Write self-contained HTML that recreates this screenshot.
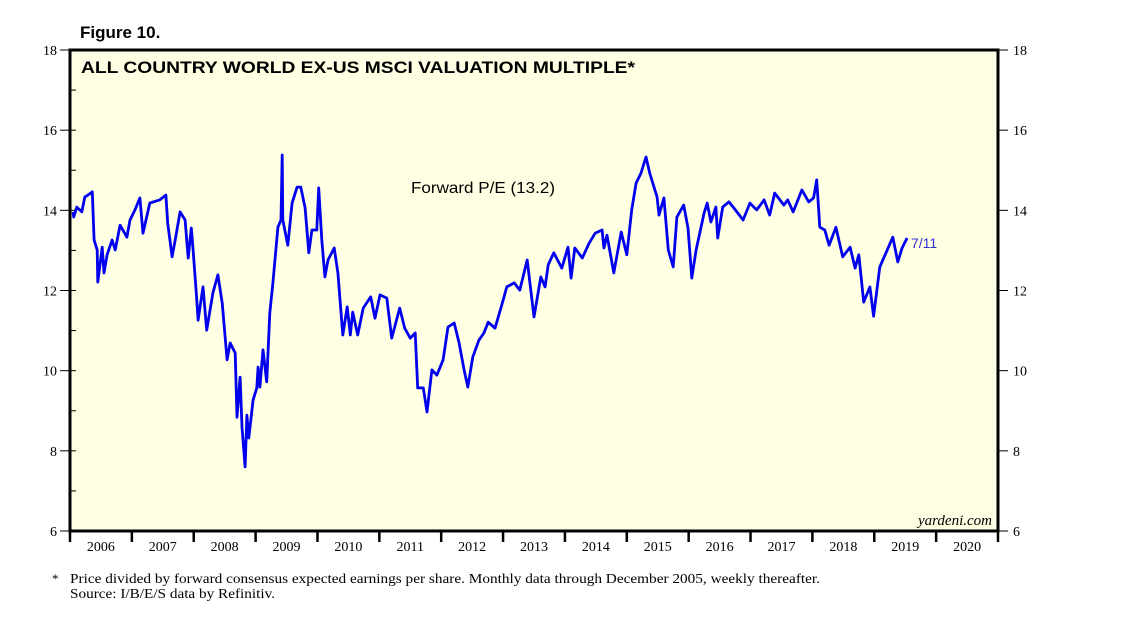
<!DOCTYPE html>
<html><head><meta charset="utf-8"><style>
body{margin:0;background:#fff;width:1138px;height:623px;overflow:hidden}
svg{display:block}
</style></head><body>
<svg id="chart" width="1138" height="623" xmlns="http://www.w3.org/2000/svg">
<text x="80" y="38" font-family="Liberation Sans, sans-serif" font-weight="bold" font-size="17">Figure 10.</text>
<rect x="70" y="50" width="928" height="481" fill="#FFFFE4" stroke="#000" stroke-width="3"/>
<text x="81" y="73" textLength="554" lengthAdjust="spacingAndGlyphs" font-family="Liberation Sans, sans-serif" font-weight="bold" font-size="17">ALL COUNTRY WORLD EX-US MSCI VALUATION MULTIPLE*</text>
<text x="411" y="193" textLength="144" lengthAdjust="spacingAndGlyphs" font-family="Liberation Sans, sans-serif" font-size="16">Forward P/E (13.2)</text>
<text x="911" y="248" font-family="Liberation Sans, sans-serif" font-size="14" fill="#3030d0">7/11</text>
<text x="992" y="525" text-anchor="end" font-family="Liberation Serif, serif" font-style="italic" font-size="15">yardeni.com</text>
<text x="52" y="583" font-family="Liberation Serif, serif" font-size="13">*</text>
<text x="70" y="583" textLength="750" lengthAdjust="spacingAndGlyphs" font-family="Liberation Serif, serif" font-size="14">Price divided by forward consensus expected earnings per share. Monthly data through December 2005, weekly thereafter.</text>
<text x="70" y="598" textLength="205" lengthAdjust="spacingAndGlyphs" font-family="Liberation Serif, serif" font-size="14">Source: I/B/E/S data by Refinitiv.</text>
<g id="axes"></g>
<path id="line" fill="none" stroke="#0000ee" stroke-width="2.8" stroke-linejoin="round"/>
</svg>
<script>
const dates=[2006.05,2006.06,2006.11,2006.19,2006.24,2006.29,2006.36,2006.39,2006.44,2006.45,2006.52,2006.55,2006.60,2006.68,2006.73,2006.81,2006.92,2006.97,2007.05,2007.13,2007.18,2007.29,2007.45,2007.55,2007.58,2007.65,2007.70,2007.78,2007.86,2007.91,2007.96,2007.99,2008.05,2008.07,2008.15,2008.21,2008.31,2008.39,2008.46,2008.54,2008.59,2008.67,2008.70,2008.75,2008.78,2008.83,2008.86,2008.89,2008.96,2009.02,2009.04,2009.07,2009.12,2009.18,2009.23,2009.28,2009.36,2009.41,2009.43,2009.44,2009.52,2009.59,2009.67,2009.73,2009.80,2009.86,2009.91,2009.99,2010.02,2010.07,2010.12,2010.17,2010.27,2010.33,2010.41,2010.48,2010.53,2010.57,2010.65,2010.74,2010.86,2010.93,2011.01,2011.12,2011.20,2011.33,2011.41,2011.50,2011.58,2011.62,2011.71,2011.77,2011.85,2011.93,2012.03,2012.11,2012.21,2012.29,2012.37,2012.43,2012.51,2012.61,2012.69,2012.76,2012.87,2012.98,2013.06,2013.18,2013.27,2013.39,2013.50,2013.61,2013.68,2013.73,2013.82,2013.95,2014.05,2014.10,2014.16,2014.28,2014.39,2014.49,2014.60,2014.63,2014.68,2014.79,2014.91,2015.00,2015.04,2015.08,2015.15,2015.23,2015.31,2015.37,2015.49,2015.52,2015.60,2015.67,2015.75,2015.81,2015.92,2015.99,2016.05,2016.12,2016.25,2016.30,2016.36,2016.44,2016.47,2016.55,2016.65,2016.73,2016.88,2016.99,2017.10,2017.22,2017.31,2017.39,2017.54,2017.60,2017.69,2017.83,2017.94,2018.02,2018.07,2018.12,2018.20,2018.27,2018.38,2018.49,2018.61,2018.69,2018.75,2018.83,2018.93,2018.99,2019.09,2019.19,2019.30,2019.38,2019.45,2019.53];
const peValues=[13.96,13.83,14.08,13.96,14.33,14.38,14.46,13.26,13.01,12.21,13.08,12.44,12.89,13.26,13.01,13.63,13.33,13.76,14.01,14.31,13.43,14.18,14.26,14.38,13.68,12.84,13.26,13.96,13.76,12.81,13.56,13.01,11.76,11.26,12.09,11.01,11.94,12.39,11.69,10.27,10.69,10.44,8.84,9.84,8.59,7.60,8.89,8.32,9.27,9.57,10.09,9.59,10.52,9.72,11.44,12.19,13.58,13.76,15.38,13.76,13.13,14.18,14.58,14.58,14.06,12.94,13.51,13.51,14.56,13.26,12.34,12.76,13.06,12.44,10.89,11.59,10.89,11.46,10.89,11.56,11.84,11.31,11.89,11.81,10.81,11.56,11.06,10.81,10.94,9.57,9.57,8.97,10.02,9.89,10.27,11.09,11.19,10.69,10.02,9.59,10.34,10.76,10.94,11.21,11.06,11.64,12.09,12.19,12.01,12.76,11.34,12.34,12.09,12.64,12.94,12.56,13.08,12.31,13.06,12.81,13.18,13.43,13.51,13.06,13.38,12.44,13.46,12.89,13.46,14.01,14.68,14.93,15.33,14.93,14.33,13.88,14.31,13.01,12.59,13.83,14.13,13.56,12.31,13.01,13.93,14.18,13.71,14.08,13.31,14.08,14.21,14.06,13.76,14.18,14.01,14.26,13.88,14.43,14.13,14.26,13.96,14.51,14.21,14.31,14.76,13.58,13.51,13.13,13.58,12.84,13.08,12.56,12.89,11.71,12.09,11.36,12.59,12.94,13.33,12.71,13.06,13.31];
const yearLabels=[2006,2007,2008,2009,2010,2011,2012,2013,2014,2015,2016,2017,2018,2019,2020];
const yTicks=[6,8,10,12,14,16,18];

const X0=70,X1=998,Y0=531,Y1=50,T0=2006,T1=2021,V0=6,V1=18;
function xs(t){return X0+(t-T0)/(T1-T0)*(X1-X0);}
function ys(v){return Y0-(v-V0)/(V1-V0)*(Y0-Y1);}
const NS="http://www.w3.org/2000/svg";
const g=document.getElementById('axes');
function mk(tag,attrs){const e=document.createElementNS(NS,tag);for(const k in attrs)e.setAttribute(k,attrs[k]);g.appendChild(e);return e;}
for(let v=V0;v<=V1;v++){
  const y=ys(v);
  const l=mk('line',{x1:X0,x2:X0+6,y1:y,y2:y,stroke:'#000','stroke-width':1});
  
  
}
yTicks.forEach(v=>{
  const y=ys(v);
  const a=mk('line',{x1:X0-10,x2:X0,y1:y,y2:y,stroke:'#000','stroke-width':1});
  
  
  const b=mk('line',{x1:X1,x2:X1+10,y1:y,y2:y,stroke:'#000','stroke-width':1});
  
  
  const t1=mk('text',{x:X0-13,y:y+5,'text-anchor':'end','font-family':'Liberation Serif, serif','font-size':14});
  t1.textContent=v;
  
  
  const t2=mk('text',{x:X1+15,y:y+5,'font-family':'Liberation Serif, serif','font-size':14});
  t2.textContent=v;
  
  
});
yearLabels.forEach(yr=>{
  const x=xs(yr);
  const tk=mk('line',{x1:x,x2:x,y1:Y0,y2:Y0+11,stroke:'#000','stroke-width':2.5});
  
  
  const t=mk('text',{x:xs(yr+0.5),y:Y0+20,'text-anchor':'middle','font-family':'Liberation Serif, serif','font-size':14});
  t.textContent=yr;
  
  
});
const endTick=mk('line',{x1:X1,x2:X1,y1:Y0,y2:Y0+11,stroke:'#000','stroke-width':2.5});


let d='';
dates.forEach((t,i)=>{d+=(i?'L':'M')+xs(t).toFixed(1)+','+ys(peValues[i]).toFixed(1);});
document.getElementById('line').setAttribute('d',d);
</script>
</body></html>
